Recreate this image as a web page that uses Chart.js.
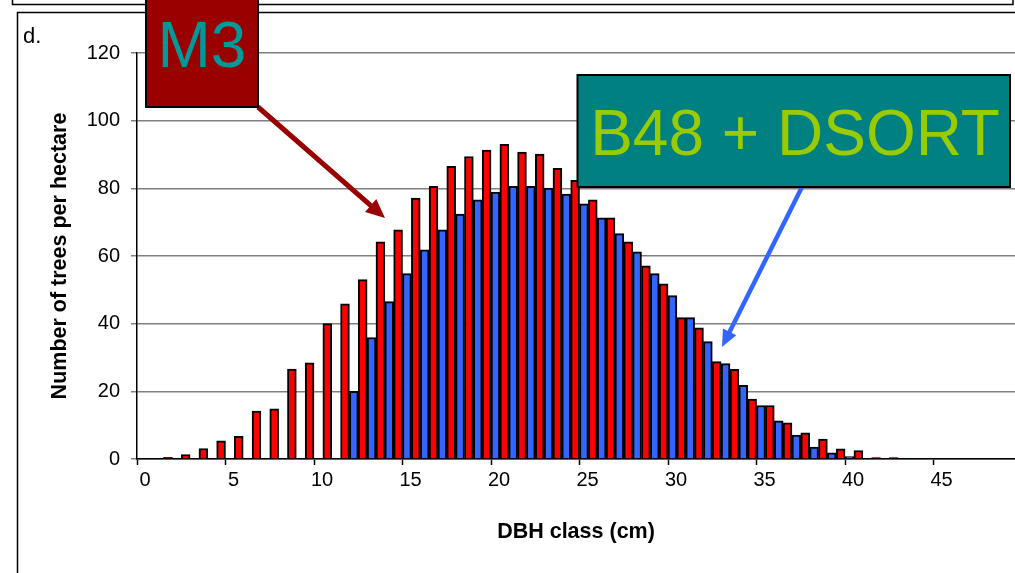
<!DOCTYPE html>
<html><head><meta charset="utf-8">
<script src="https://cdn.jsdelivr.net/npm/chart.js@4.4.0/dist/chart.umd.min.js"></script>
<style>html,body{margin:0;padding:0;background:#fff;overflow:hidden}#wrap{position:relative;width:1015px;height:573px}</style>
</head><body><div id="wrap"><canvas id="c" width="1015" height="573"></canvas></div>
<script>
// DBH classes (cm)
const dbhClass = [2,3,4,5,6,7,8,9,10,11,12,13,14,15,16,17,18,19,20,21,22,23,24,25,26,27,28,29,30,31,32,33,34,35,36,37,38,39,40,41,42,43];
// M3 (red)
const m3Trees = [0.5,1.3,3.1,5.4,6.7,14.2,14.8,26.6,28.4,40.0,45.9,53.0,64.2,67.7,77.1,80.6,86.5,89.4,91.3,93.0,90.7,90.1,85.9,82.4,76.6,71.3,64.2,57.1,51.8,41.8,38.8,28.8,26.5,17.7,15.8,10.7,7.7,5.9,3.0,2.5,0.4,0.4];
// B48 + DSORT (blue)
const b48DsortTrees = [null,null,null,null,null,null,null,null,null,null,20.0,35.9,46.5,54.8,61.8,67.7,72.4,76.6,78.9,80.6,80.6,80.1,78.3,75.4,71.3,66.6,61.2,54.8,48.3,41.8,34.7,28.2,21.8,15.8,11.3,7.1,3.5,1.8,0.7,null,null,null];
const xTickValues = [0,5,10,15,20,25,30,35,40,45];
const yTickValues = [0,20,40,60,80,100,120];

const FONT = "'Liberation Sans', Arial, sans-serif";

function toPoints(vals){ return dbhClass.map((x,i)=>({x:x,y:vals[i]})).filter(p=>p.y!==null); }

function arrow(ctx,x1,y1,x2,y2,color,w,hl,hw){
  const a=Math.atan2(y2-y1,x2-x1), dx=Math.cos(a), dy=Math.sin(a);
  const bx=x2-dx*hl, by=y2-dy*hl;
  ctx.save();
  ctx.strokeStyle=color; ctx.fillStyle=color; ctx.lineWidth=w; ctx.lineCap='butt';
  ctx.beginPath(); ctx.moveTo(x1,y1); ctx.lineTo(bx+dx*1,by+dy*1); ctx.stroke();
  ctx.beginPath(); ctx.moveTo(x2,y2);
  ctx.lineTo(bx-dy*hw/2,by+dx*hw/2); ctx.lineTo(bx+dy*hw/2,by-dx*hw/2); ctx.closePath(); ctx.fill();
  ctx.restore();
}

const decor = {
  id:'decor',
  beforeDraw(chart){
    const ctx=chart.ctx; ctx.save(); ctx.fillStyle='#fff'; ctx.fillRect(0,0,chart.width,chart.height); ctx.restore();
  },
  afterDraw(chart){
    const ctx=chart.ctx;
    ctx.save();
    // frames
    ctx.strokeStyle='#000'; ctx.lineWidth=1.5;
    ctx.strokeRect(12.5,-20,1000.5,24.5);
    ctx.strokeRect(17.5,12.5,1030,600);
    // panel letter
    ctx.fillStyle='#000'; ctx.font='22px '+FONT; ctx.textAlign='left'; ctx.textBaseline='alphabetic';
    ctx.fillText('d.',23,43);
    // arrows
    arrow(ctx,258,107,385,218,'#990000',5,19,17);
    arrow(ctx,802,187,722,347,'#3366FF',4.5,17,15);
    // M3 box
    ctx.fillStyle='#990000'; ctx.fillRect(146,-10,112,117);
    ctx.strokeStyle='#000'; ctx.lineWidth=2; ctx.strokeRect(146,-10,112,117);
    ctx.fillStyle='#009999'; ctx.font='64px '+FONT; ctx.textAlign='center';
    ctx.fillText('M3',202,67);
    // B48 box
    ctx.fillStyle='#008080'; ctx.fillRect(577.5,75,432.5,112);
    ctx.strokeStyle='#000'; ctx.lineWidth=2; ctx.strokeRect(577.5,75,432.5,112);
    ctx.fillStyle='#99CC00'; ctx.font='64px '+FONT; ctx.textAlign='center';
    ctx.fillText('B48 + DSORT',795,155);
    ctx.restore();
  }
};

new Chart(document.getElementById('c'),{
  type:'bar',
  data:{datasets:[
    {label:'M3',data:toPoints(m3Trees),backgroundColor:'#FF0000',borderColor:'#000',borderWidth:2,barPercentage:1,categoryPercentage:1},
    {label:'B48 + DSORT',data:toPoints(b48DsortTrees),backgroundColor:'#3366FF',borderColor:'#000',borderWidth:2,barPercentage:1,categoryPercentage:1}
  ]},
  options:{
    responsive:false, animation:false, devicePixelRatio:1,
    layout:{padding:{left:0,top:53,right:0,bottom:0}},
    plugins:{legend:{display:false},tooltip:{enabled:false}},
    scales:{
      x:{type:'linear',min:0,max:49.6,offset:false,
        afterBuildTicks:s=>{s.ticks=xTickValues.map(v=>({value:v}));},
        afterFit:s=>{s.height=114;},
        grid:{offset:false,drawOnChartArea:false,drawTicks:true,tickLength:6,tickColor:'#000',tickWidth:1.5},
        border:{display:true,color:'#000',width:1.5},
        ticks:{color:'#000',font:{family:FONT,size:20},labelOffset:8,padding:3,maxRotation:0,autoSkip:false},
        title:{display:true,text:'DBH class (cm)',color:'#000',font:{family:FONT,size:21.5,weight:'bold'},padding:{top:0,bottom:28}}
      },
      y:{min:0,max:120,
        afterBuildTicks:s=>{s.ticks=yTickValues.map(v=>({value:v}));},
        afterFit:s=>{s.width=137;},
        grid:{color:'#808080',lineWidth:1.5,drawTicks:true,tickLength:6,tickColor:'#808080'},
        border:{display:true,color:'#000',width:1.5},
        ticks:{color:'#000',font:{family:FONT,size:20},padding:11},
        title:{display:true,text:'Number of trees per hectare',color:'#000',font:{family:FONT,size:21.5,weight:'bold'},padding:{top:47,bottom:0}}
      }
    }
  },
  plugins:[decor]
});
</script></body></html>
